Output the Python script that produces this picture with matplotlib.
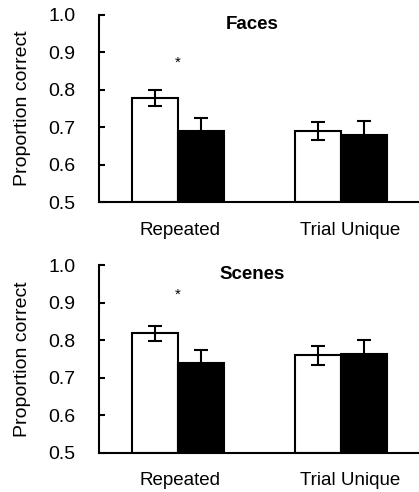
import matplotlib.pyplot as plt
import numpy as np

plt.rcParams['font.family'] = ['Liberation Sans', 'DejaVu Sans']

conditions = ["Repeated", "Trial Unique"]
panels = ["Faces", "Scenes"]

# white bars / black bars, per panel
white_vals = {"Faces": [0.778, 0.690], "Scenes": [0.818, 0.760]}
white_err = {"Faces": [0.022, 0.024], "Scenes": [0.021, 0.025]}
black_vals = {"Faces": [0.690, 0.679], "Scenes": [0.740, 0.762]}
black_err = {"Faces": [0.034, 0.038], "Scenes": [0.033, 0.038]}
star_y = {"Faces": 0.873, "Scenes": 0.922}

fig = plt.figure(figsize=(4.19, 4.92), dpi=100)
positions = {"Faces": [0.236, 0.589, 0.764, 0.381],
             "Scenes": [0.236, 0.080, 0.764, 0.381]}

x = np.arange(len(conditions))
w = 0.282

for name in panels:
    ax = fig.add_axes(positions[name])
    ax.bar(x - w / 2, np.array(white_vals[name]) - 0.5, w, bottom=0.5,
           color="white", edgecolor="black", linewidth=1.5,
           yerr=white_err[name], capsize=4.7,
           error_kw=dict(elinewidth=1.5, capthick=1.5, ecolor="black"))
    ax.bar(x + w / 2, np.array(black_vals[name]) - 0.5, w, bottom=0.5,
           color="black", edgecolor="black", linewidth=1.5,
           yerr=black_err[name], capsize=4.7,
           error_kw=dict(elinewidth=1.5, capthick=1.5, ecolor="black"))
    ax.text(0, star_y[name], "*", ha="center", va="center", fontsize=11)
    ax.text(0.48, 0.95, name, transform=ax.transAxes, ha="center",
            va="center", fontsize=13.5, fontweight="bold")

    ax.set_ylim(0.5, 1.0)
    ax.set_xlim(-0.485, 1.479)
    ax.set_yticks([0.5, 0.6, 0.7, 0.8, 0.9, 1.0])
    ax.set_yticklabels(["0.5", "0.6", "0.7", "0.8", "0.9", "1.0"])
    ax.set_xticks([0.01, 1.055])
    ax.set_xticklabels(conditions)
    ax.tick_params(axis="y", direction="in", length=4, width=1.5,
                   labelsize=14, pad=17)
    ax.tick_params(axis="x", length=0, labelsize=13.5, pad=14)
    for s in ["top", "right"]:
        ax.spines[s].set_visible(False)
    for s in ["left", "bottom"]:
        ax.spines[s].set_linewidth(1.5)
    ax.set_ylabel("Proportion correct", fontsize=14, labelpad=12)

fig.savefig("out.png", dpi=100)
